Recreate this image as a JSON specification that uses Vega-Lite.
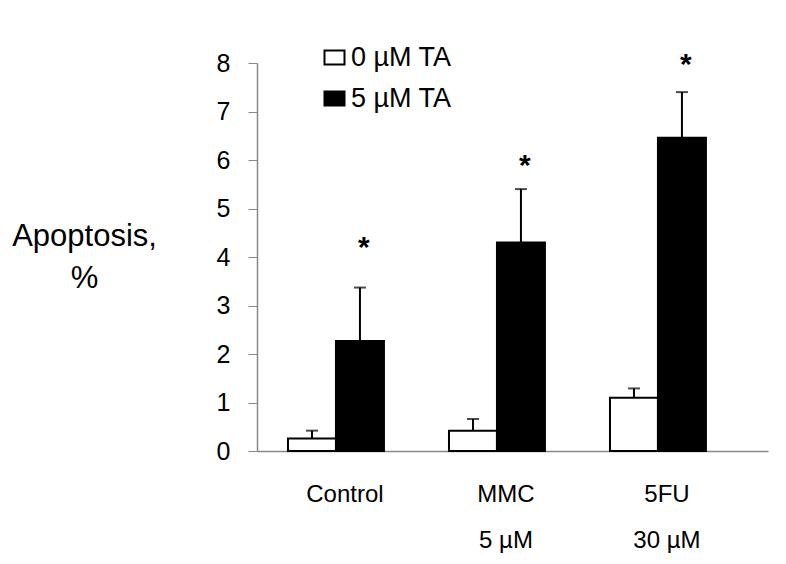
{
  "$schema": "https://vega.github.io/schema/vega-lite/v6.json",
  "width": 511,
  "height": 388,
  "autosize": {"type": "none"},
  "padding": {"left": 257, "top": 63, "right": 18, "bottom": 113},
  "config": {
    "view": {"stroke": null},
    "font": "Liberation Sans",
    "background": "white"
  },
  "data": {
    "values": [
      {"group": "Control", "ta": "0 µM TA", "value": 0.26, "upper": 0.42},
      {"group": "Control", "ta": "5 µM TA", "value": 2.27, "upper": 3.37, "star": 4.35},
      {"group": "MMC|5 µM", "ta": "0 µM TA", "value": 0.42, "upper": 0.66},
      {"group": "MMC|5 µM", "ta": "5 µM TA", "value": 4.30, "upper": 5.40, "star": 6.04},
      {"group": "5FU|30 µM", "ta": "0 µM TA", "value": 1.10, "upper": 1.29},
      {"group": "5FU|30 µM", "ta": "5 µM TA", "value": 6.46, "upper": 7.40, "star": 8.12}
    ]
  },
  "encoding": {
    "x": {
      "field": "group",
      "type": "nominal",
      "sort": null,
      "scale": {"paddingInner": 0.404, "paddingOuter": 0.289, "align": 0.333},
      "axis": {
        "title": null,
        "labelAngle": 0,
        "labelExpr": "split(datum.label, '|')",
        "labelFontSize": 24,
        "labelColor": "black",
        "labelLineHeight": 46,
        "labelBaseline": "top",
        "labelPadding": 31,
        "labelOffset": 9,
        "ticks": false,
        "domainColor": "#888888",
        "domainWidth": 1.5
      }
    },
    "xOffset": {
      "field": "ta",
      "type": "nominal",
      "scale": {"domain": ["0 µM TA", "5 µM TA"], "paddingInner": 0, "paddingOuter": 0}
    }
  },
  "layer": [
    {
      "mark": {"type": "bar", "stroke": "black", "strokeWidth": 2},
      "encoding": {
        "y": {
          "field": "value",
          "type": "quantitative",
          "scale": {"domain": [0, 8], "nice": false},
          "axis": {
            "values": [0, 1, 2, 3, 4, 5, 6, 7, 8],
            "grid": false,
            "domainColor": "#888888",
            "domainWidth": 1.5,
            "tickColor": "#888888",
            "tickSize": 9,
            "labelFontSize": 25,
            "labelColor": "black",
            "labelPadding": 18,
            "title": ["Apoptosis,", "%"],
            "titleAngle": 0,
            "titleFontSize": 31,
            "titleFontWeight": "normal",
            "titleColor": "black",
            "titleAlign": "center",
            "titleBaseline": "alphabetic",
            "titleLineHeight": 42,
            "titleX": -173,
            "titleY": 182
          }
        },
        "fill": {
          "field": "ta",
          "type": "nominal",
          "scale": {"domain": ["0 µM TA", "5 µM TA"], "range": ["white", "black"]},
          "legend": {
            "title": null,
            "orient": "none",
            "legendX": 64,
            "legendY": -19,
            "symbolType": "M-1,-0.7H1V0.7H-1Z",
            "symbolSize": 400,
            "symbolStrokeColor": "black",
            "symbolStrokeWidth": 2,
            "labelFontSize": 27,
            "labelColor": "black",
            "labelOffset": 3,
            "rowPadding": 13
          }
        }
      }
    },
    {
      "mark": {"type": "rule", "color": "black", "strokeWidth": 2},
      "encoding": {
        "y": {"field": "value", "type": "quantitative"},
        "y2": {"field": "upper"}
      }
    },
    {
      "mark": {"type": "tick", "color": "black", "size": 12, "thickness": 2, "orient": "horizontal"},
      "encoding": {
        "y": {"field": "upper", "type": "quantitative"}
      }
    },
    {
      "transform": [{"filter": "isValid(datum.star)"}],
      "mark": {"type": "text", "text": "*", "fontSize": 30, "fontWeight": "bold", "baseline": "middle", "dy": 8, "dx": 4, "color": "black"},
      "encoding": {
        "y": {"field": "star", "type": "quantitative"}
      }
    }
  ]
}
